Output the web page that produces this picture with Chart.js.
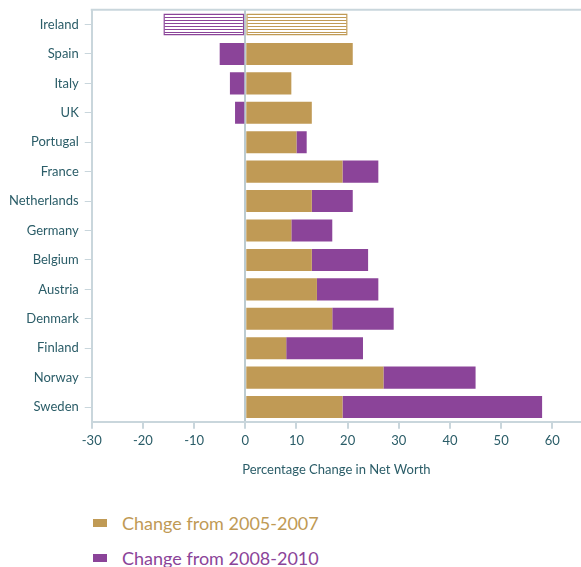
<!DOCTYPE html>
<html>
<head>
<meta charset="utf-8">
<script src="https://cdn.jsdelivr.net/npm/chart.js@4"></script>
<style>
  body { margin: 0; background: #fff; font-family: Lato, sans-serif; overflow: hidden; }
  #wrap { position: relative; width: 581px; height: 486px; margin-top: -4px; }
  .legend { position: absolute; left: 93px; font-size: 18px; }
  .legend div { height: 35px; display: flex; align-items: center; }
  .legend span.box { display: inline-block; width: 14px; height: 8px; margin-right: 15px; }
</style>
</head>
<body>
<div id="wrap"><canvas id="myChart"></canvas></div>
<div class="legend" style="top: 505px;">
  <div style="color:#c09a55"><span class="box" style="background:#c09a55"></span>Change from 2005-2007</div>
  <div style="color:#8b4499"><span class="box" style="background:#8b4499"></span>Change from 2008-2010</div>
</div>
<script>
const countries = ['Ireland', 'Spain', 'Italy', 'UK', 'Portugal', 'France', 'Netherlands',
  'Germany', 'Belgium', 'Austria', 'Denmark', 'Finland', 'Norway', 'Sweden'];
const change0507 = [20, 21, 9, 13, 10, 19, 13, 9, 13, 14, 17, 8, 27, 19];
const change0810 = [-16, -5, -3, -2, 2, 7, 8, 8, 11, 12, 12, 15, 18, 39];
const xTicks = [-30, -20, -10, 0, 10, 20, 30, 40, 50, 60];

const gold = '#c09a55';
const purple = '#8b4499';
const textColor = '#2b5d68';
const axisColor = '#c9d6dc';

function hatch(color) {
  let c = document.createElement('canvas');
  c.width = 6; c.height = 3;
  let g = c.getContext('2d');
  g.fillStyle = '#ffffff';
  g.fillRect(0, 0, 6, 3);
  g.fillStyle = color;
  g.fillRect(0, 0, 6, 1);
  return g.createPattern(c, 'repeat');
}

const goldFill = countries.map((c, i) => i === 0 ? hatch(gold) : gold);
const purpleFill = countries.map((c, i) => i === 0 ? hatch(purple) : purple);
const borders = countries.map((c, i) => i === 0 ? 1.5 : 0);

// line along the top of the plot area
const topBorder = {
  id: 'topBorder',
  beforeDatasetsDraw(chart) {
    let a = chart.chartArea;
    let g = chart.ctx;
    g.save();
    g.strokeStyle = axisColor;
    g.lineWidth = 2;
    g.beginPath();
    g.moveTo(a.left - 1, a.top);
    g.lineTo(a.right, a.top);
    g.stroke();
    g.restore();
  }
};

const ctx = document.getElementById('myChart');

new Chart(ctx, {
  type: 'bar',
  data: {
    labels: countries,
    datasets: [{
      label: 'Change from 2005-2007',
      data: change0507,
      backgroundColor: goldFill,
      borderColor: gold,
      borderWidth: borders,
      borderSkipped: false
    }, {
      label: 'Change from 2008-2010',
      data: change0810,
      backgroundColor: purpleFill,
      borderColor: purple,
      borderWidth: borders,
      borderSkipped: false
    }]
  },
  plugins: [topBorder],
  options: {
    indexAxis: 'y',
    responsive: true,
    maintainAspectRatio: false,
    animation: false,
    barPercentage: 0.75,
    categoryPercentage: 1,
    layout: { padding: { top: 0, right: 0, left: 3, bottom: 0 } },
    plugins: {
      legend: { display: false },
      tooltip: { enabled: false }
    },
    scales: {
      x: {
        stacked: true,
        min: -30,
        max: 65.6,
        afterBuildTicks: (scale) => {
          scale.ticks = xTicks.map(v => ({ value: v }));
        },
        ticks: {
          color: textColor,
          font: { family: 'Lato', size: 13 },
          padding: 4
        },
        grid: {
          color: (c) => c.tick && c.tick.value === 0 ? '#bccbd0' : 'transparent',
          lineWidth: 2,
          tickColor: axisColor,
          tickLength: 7
        },
        border: { color: axisColor, width: 2 },
        title: {
          display: true,
          text: 'Percentage Change in Net Worth',
          color: textColor,
          font: { family: 'Lato', size: 13 },
          padding: { top: 10 }
        }
      },
      y: {
        stacked: true,
        ticks: {
          color: textColor,
          font: { family: 'Lato', size: 13 },
          padding: 6
        },
        grid: {
          offset: false,
          drawOnChartArea: false,
          tickColor: axisColor,
          tickLength: 7
        },
        border: { color: axisColor, width: 2 }
      }
    }
  }
});
</script>
</body>
</html>
